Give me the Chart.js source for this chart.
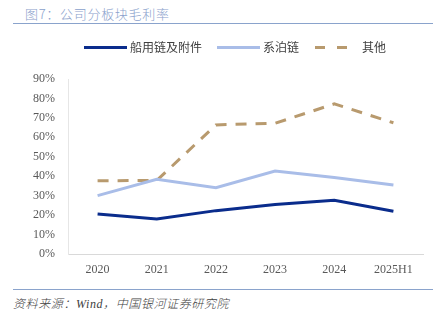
<!DOCTYPE html>
<html>
<head>
<meta charset="utf-8">
<script src="https://cdn.jsdelivr.net/npm/chart.js@4.4.1/dist/chart.umd.min.js"></script>
<style>
  html, body { margin:0; padding:0; background:#fff; }
  body { width:440px; height:323px; position:relative; overflow:hidden; }
  #title { position:absolute; left:25px; top:4px; font:300 13px "Noto Sans CJK SC", sans-serif; letter-spacing:0.7px; color:#8aa1cc; white-space:nowrap; }
  #tline { position:absolute; left:13px; top:23px; width:420px; height:1px; background:#8aa3cc; }
  #bline { position:absolute; left:13px; top:289px; width:420px; height:1px; background:#8aa3cc; }
  #foot { position:absolute; left:13px; top:294px; font:italic 300 12px "Noto Sans CJK SC", sans-serif; letter-spacing:0.6px; color:#404040; white-space:nowrap; }
  #wrap { position:absolute; left:0; top:30px; width:440px; height:250px; }
</style>
</head>
<body>
<div id="title">图7：公司分板块毛利率</div>
<div id="tline"></div>
<div id="wrap"><canvas id="c"></canvas></div>
<div id="bline"></div>
<div id="foot">资料来源：<span style="font-family:'Liberation Serif',serif">Wind</span>，中国银河证券研究院</div>
<script>
const categories = ["2020", "2021", "2022", "2023", "2024", "2025H1"];
const seriesNames = ["船用链及附件", "系泊链", "其他"];
const chainAccessories = [20.6, 18.0, 22.3, 25.5, 27.6, 22.0];
const mooringChain = [30.0, 38.4, 34.1, 42.7, 39.3, 35.5];
const others = [37.7, 37.8, 66.4, 67.2, 77.2, 67.5];
const yTicks = [0, 10, 20, 30, 40, 50, 60, 70, 80, 90];

const colors = ["#0a2c8c", "#a9bde8", "#b89a6e"];

const legendPos = [
  { x1: 84, x2: 127, tx: 130 },
  { x1: 217, x2: 260, tx: 263 },
  { x1: 315, x2: 348, tx: 362 }
];

const legendPlugin = {
  id: 'customLegend',
  afterDraw(chart) {
    const ctx = chart.ctx;
    const y = 17.5;
    chart.data.datasets.forEach((ds, i) => {
      const p = legendPos[i];
      ctx.save();
      ctx.strokeStyle = ds.borderColor;
      ctx.lineWidth = 3;
      ctx.lineCap = 'butt';
      ctx.setLineDash(ds.borderDash ? [10, 12] : []);
      ctx.beginPath();
      ctx.moveTo(p.x1, y);
      ctx.lineTo(p.x2, y);
      ctx.stroke();
      ctx.setLineDash([]);
      ctx.fillStyle = '#404040';
      ctx.font = '12px "Noto Sans CJK SC", sans-serif';
      ctx.textBaseline = 'middle';
      ctx.fillText(ds.label, p.tx, y);
      ctx.restore();
    });
  }
};

new Chart(document.getElementById('c'), {
  type: 'line',
  data: {
    labels: categories,
    datasets: [
      { label: seriesNames[0], data: chainAccessories, borderColor: colors[0], backgroundColor: colors[0], borderWidth: 3, pointRadius: 0, tension: 0 },
      { label: seriesNames[1], data: mooringChain, borderColor: colors[1], backgroundColor: colors[1], borderWidth: 3, pointRadius: 0, tension: 0 },
      { label: seriesNames[2], data: others, borderColor: colors[2], backgroundColor: colors[2], borderWidth: 3, borderDash: [11, 9], pointRadius: 0, tension: 0 }
    ]
  },
  options: {
    responsive: true,
    maintainAspectRatio: false,
    animation: false,
    layout: { padding: { top: 49, right: 17, bottom: 0, left: 0 } },
    plugins: { legend: { display: false }, tooltip: { enabled: false } },
    scales: {
      x: {
        offset: true,
        grid: { display: false, drawTicks: false },
        border: { display: true, color: '#d9d9d9', width: 1 },
        ticks: { color: '#595959', font: { family: '"Liberation Serif", serif', size: 12 }, padding: 9, maxRotation: 0 },
        afterFit(s) { s.height = 26; }
      },
      y: {
        min: 0, max: 90,
        grid: { display: false, drawTicks: false },
        border: { display: true, color: '#e6e6e6', width: 1 },
        afterBuildTicks(s) { s.ticks = yTicks.map(v => ({ value: v })); },
        ticks: { color: '#595959', font: { family: '"Liberation Serif", serif', size: 12 }, padding: 13, callback: v => v + '%' },
        afterFit(s) { s.width = 68; }
      }
    }
  },
  plugins: [legendPlugin]
});
</script>
</body>
</html>
